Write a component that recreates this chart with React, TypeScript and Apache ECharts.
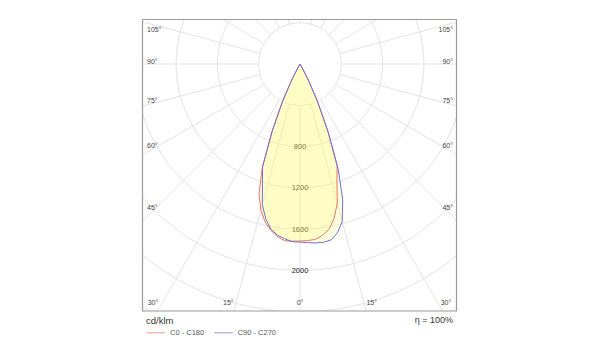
import React, { useEffect, useRef } from "react";
import * as echarts from "echarts";

// gamma angles (degrees from nadir) of the measured points
const gammaDeg = [0, 2.5, 5, 7.5, 10, 12.5, 15, 17.5, 20, 22.5, 25, 27.5, 30, 32.5];
// cd/klm values
const c0Values = [1715, 1712, 1705, 1675, 1625, 1530, 1395, 1190, 1050, 700, 400, 175, 20, 0];
const c180Values = [1715, 1718, 1718, 1685, 1635, 1565, 1465, 1320, 1070, 700, 400, 175, 20, 0];
const c90Values = [1725, 1732, 1740, 1742, 1730, 1675, 1580, 1375, 1080, 720, 410, 185, 25, 0];
const c270Values = [1725, 1722, 1700, 1672, 1625, 1535, 1410, 1210, 1060, 710, 410, 185, 25, 0];

const seriesNames = ["C0 - C180", "C90 - C270"];
const radiusTicksShown = [800, 1200, 1600, 2000];
const sideAngleLabels = [105, 90, 75, 60, 45];
const bottomAngleLabels = [30, 15, 0];
const unitLabel = "cd/klm";
const efficiencyLabel = "η = 100%";

const FONT = '"Liberation Sans", Arial, sans-serif';

function buildCurve(left: number[], right: number[]) {
  const pts: number[][] = [];
  for (let i = gammaDeg.length - 1; i >= 0; i--) pts.push([left[i], 360 - gammaDeg[i]]);
  for (let i = 0; i < gammaDeg.length; i++) pts.push([right[i], gammaDeg[i]]);
  return pts;
}

export default function App() {
  const ref = useRef<HTMLDivElement>(null);
  useEffect(() => {
    if (!ref.current) return;
    const chart = echarts.init(ref.current, undefined, { renderer: "svg" });
    const CX = 300, CY = 64, R400 = 41.3;
    const box = { l: 142.5, t: 19.5, r: 456.5, b: 311 };
    const labelColor = "#444";
    const gridColor = "#e3e3e3";

    const texts: any[] = [];
    sideAngleLabels.forEach((g) => {
      const rad = (g * Math.PI) / 180;
      const lineY = CY + (146 * Math.cos(rad)) / Math.sin(rad);
      const y = Math.max(29.5, lineY - 3);
      const t = g + "°";
      texts.push({ type: "text", x: 147, y, z: 102, style: { text: t, fill: labelColor, font: `7px ${FONT}`, align: "left", verticalAlign: "middle" } });
      texts.push({ type: "text", x: 453, y, z: 102, style: { text: t, fill: labelColor, font: `7px ${FONT}`, align: "right", verticalAlign: "middle" } });
    });
    bottomAngleLabels.forEach((g) => {
      const t = g + "°";
      const y = 302.7;
      if (g === 0) {
        texts.push({ type: "text", x: CX, y, z: 102, style: { text: t, fill: labelColor, font: `7px ${FONT}`, align: "center", verticalAlign: "middle" } });
      } else {
        const dx = (box.b - CY) * Math.tan((g * Math.PI) / 180);
        const xl = Math.max(153, CX - dx - 5.5);
        const xr = Math.min(446, CX + dx + 5.5);
        texts.push({ type: "text", x: xl, y, z: 102, style: { text: t, fill: labelColor, font: `7px ${FONT}`, align: "center", verticalAlign: "middle" } });
        texts.push({ type: "text", x: xr, y, z: 102, style: { text: t, fill: labelColor, font: `7px ${FONT}`, align: "center", verticalAlign: "middle" } });
      }
    });

    const white = { fill: "#fff", stroke: "none" };
    chart.setOption({
      animation: false,
      polar: { center: [CX, CY], radius: [0, R400 * 7] },
      angleAxis: {
        type: "value",
        min: 0,
        max: 360,
        interval: 15,
        startAngle: -90,
        clockwise: false,
        axisLine: { show: false },
        axisTick: { show: false },
        axisLabel: { show: false },
        splitLine: { show: true, lineStyle: { color: gridColor, width: 1 } },
      },
      radiusAxis: {
        type: "value",
        min: 0,
        max: 2800,
        interval: 400,
        axisLine: { show: false },
        axisTick: { show: false },
        splitLine: { show: true, lineStyle: { color: gridColor, width: 1 } },
        axisLabel: {
          margin: 0,
          align: "center",
          verticalAlign: "middle",
          fontSize: 7.5,
          fontFamily: FONT,
          color: "#222",
          formatter: (v: number) => (radiusTicksShown.indexOf(v) >= 0 ? String(v) : ""),
        },
      },
      legend: {
        left: 146.5,
        top: 328.8,
        padding: 0,
        z: 200,
        icon: "rect",
        itemWidth: 18.5,
        itemHeight: 1,
        itemGap: 10,
        textStyle: { fontSize: 7.5, color: "#555", fontFamily: FONT },
        data: seriesNames,
      },
      series: [
        {
          name: seriesNames[0],
          type: "line",
          coordinateSystem: "polar",
          data: buildCurve(c180Values, c0Values),
          symbol: "none",
          smooth: false,
          clip: false,
          lineStyle: { color: "#e8756a", width: 1 },
          itemStyle: { color: "#ef9a92" },
          areaStyle: { color: "rgba(255,250,120,0.34)" },
        },
        {
          name: seriesNames[1],
          type: "line",
          coordinateSystem: "polar",
          data: buildCurve(c270Values, c90Values),
          symbol: "none",
          smooth: false,
          clip: false,
          lineStyle: { color: "#6f6fd6", width: 1 },
          itemStyle: { color: "#9a9ae0" },
          areaStyle: { color: "rgba(255,250,120,0.34)" },
        },
      ],
      graphic: [
        { type: "circle", z: 1, shape: { cx: CX, cy: CY, r: R400 - 0.7 }, style: white },
        { type: "rect", z: 100, shape: { x: 0, y: 0, width: box.l, height: 360 }, style: white },
        { type: "rect", z: 100, shape: { x: box.r, y: 0, width: 600 - box.r, height: 360 }, style: white },
        { type: "rect", z: 100, shape: { x: 0, y: 0, width: 600, height: box.t }, style: white },
        { type: "rect", z: 100, shape: { x: 0, y: box.b, width: 600, height: 360 - box.b }, style: white },
        {
          type: "rect",
          z: 101,
          shape: { x: box.l, y: box.t, width: box.r - box.l, height: box.b - box.t },
          style: { fill: "none", stroke: "#9a9a9a", lineWidth: 1.2 },
        },
        ...texts,
        { type: "text", x: 146, y: 320, z: 102, style: { text: unitLabel, fill: "#333", font: `9.5px ${FONT}`, align: "left", verticalAlign: "middle" } },
        { type: "text", x: 453, y: 320, z: 102, style: { text: efficiencyLabel, fill: "#333", font: `9px ${FONT}`, align: "right", verticalAlign: "middle" } },
      ],
    });
    return () => chart.dispose();
  }, []);
  return <div ref={ref} style={{ position: "absolute", left: 0, top: 0, width: 600, height: 360 }} />;
}
